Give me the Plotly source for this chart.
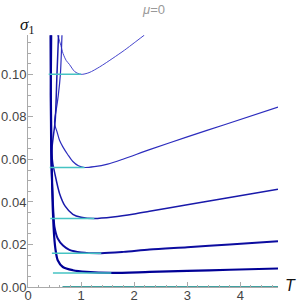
import plotly.graph_objects as go

# ---- data ----
T1 = [0.56, 0.62, 0.66, 0.72, 0.78, 0.88, 1.0, 1.15, 1.35, 1.6, 1.82, 2.0, 2.19]
S1 = [0.1184, 0.1135, 0.1098, 0.1065, 0.1047, 0.1013, 0.1000, 0.1008, 0.1035, 0.1076, 0.1114, 0.1148, 0.1184]

T2 = [0.64, 0.61, 0.57, 0.53, 0.507, 0.50, 0.512, 0.543, 0.594, 0.657, 0.751, 0.845, 0.95,
      1.066, 1.25, 1.5, 1.8, 2.29, 3.0, 3.7, 4.71]
S2 = [0.1184, 0.1000, 0.0900, 0.0830, 0.0797, 0.0775, 0.0755, 0.0733, 0.0690, 0.0659, 0.0622,
      0.0590, 0.0570, 0.0562, 0.0566, 0.0578, 0.0602, 0.0646, 0.0706, 0.0763, 0.0846]

T3 = [0.575, 0.545, 0.513, 0.478, 0.455, 0.452, 0.468, 0.50, 0.594, 0.70, 0.845, 1.0, 1.25,
      1.6, 2.0, 2.29, 3.0, 3.8, 4.71]
S3 = [0.1184, 0.0996, 0.0784, 0.0710, 0.0660, 0.0620, 0.0580, 0.0540, 0.0440, 0.0380, 0.0342,
      0.0328, 0.0322, 0.0329, 0.0343, 0.0356, 0.0387, 0.0421, 0.0460]

T4 = [0.44, 0.43, 0.434, 0.446, 0.46, 0.48, 0.50, 0.56, 0.66, 0.78, 1.0, 1.38, 1.8, 2.29,
      3.0, 3.8, 4.71]
S4 = [0.1184, 0.0900, 0.0640, 0.0530, 0.0455, 0.0347, 0.0282, 0.0228, 0.0195, 0.0175, 0.0163,
      0.0159, 0.0165, 0.0176, 0.0187, 0.0200, 0.0215]

T5 = [0.425, 0.43, 0.443, 0.455, 0.468, 0.494, 0.52, 0.56, 0.657, 0.845, 1.1, 1.57, 2.29,
      3.0, 3.8, 4.71]
S5 = [0.1184, 0.0900, 0.0640, 0.0480, 0.0360, 0.0235, 0.0173, 0.0126, 0.0094, 0.0079, 0.0071,
      0.0066, 0.0071, 0.0076, 0.0081, 0.0087]

min_sigma = [0.100, 0.0562, 0.0322, 0.0159, 0.0066]
min_start = [0.39, 0.41, 0.42, 0.45, 0.47]
min_end = [1.0, 1.066, 1.25, 1.38, 1.57]

base_T = [0.65, 4.71]
base_S = [0.0, 0.0]

x_ticks = [0, 1, 2, 3, 4]
y_ticks = [0.00, 0.02, 0.04, 0.06, 0.08, 0.10]
y_tick_text = ["0.00", "0.02", "0.04", "0.06", "0.08", "0.10"]

# ---- figure ----
W, H = 297, 304
ML, MR, MT, MB = 28, 19, 35, 17
PW, PH = W - ML - MR, H - MT - MB


def px(xp):
    return (xp - ML) / PW


def py(yp):
    return (H - MB - yp) / PH


fig = go.Figure()

curves = [(T1, S1), (T2, S2), (T3, S3), (T4, S4), (T5, S5)]
colors = ["rgb(70,70,205)", "rgb(45,45,190)", "rgb(25,25,170)", "rgb(12,12,160)", "rgb(0,0,150)"]
widths = [1.0, 1.2, 1.5, 1.9, 2.2]

for (tx, sy), c, w in zip(curves, colors, widths):
    fig.add_trace(go.Scatter(x=tx, y=sy, mode="lines",
                             line=dict(color=c, width=w, shape="spline", smoothing=0.8),
                             hoverinfo="skip", showlegend=False, cliponaxis=True))

for s, a, b in zip(min_sigma, min_start, min_end):
    fig.add_trace(go.Scatter(x=[a, b], y=[s, s], mode="lines",
                             line=dict(color="rgb(70,195,195)", width=1.5),
                             hoverinfo="skip", showlegend=False))

fig.add_trace(go.Scatter(x=base_T, y=base_S, mode="lines",
                         line=dict(color="rgb(0,128,128)", width=1.6),
                         hoverinfo="skip", showlegend=False, cliponaxis=False))

axis_common = dict(showgrid=False, zeroline=False, showline=True, linecolor="#aaaaaa",
                   linewidth=1, ticks="inside", ticklen=5, tickcolor="#aaaaaa", tickwidth=1,
                   automargin=False,
                   tickfont=dict(family="Liberation Sans, Arial, sans-serif", size=13, color="#444444"))

fig.update_layout(
    width=W, height=H,
    margin=dict(l=ML, r=MR, t=MT, b=MB, pad=0, autoexpand=False),
    paper_bgcolor="white", plot_bgcolor="white",
    xaxis=dict(range=[0, 4.71], tickvals=x_ticks, ticktext=[str(v) for v in x_ticks],
               minor=dict(dtick=0.2, ticks="inside", ticklen=2.5, tickcolor="#aaaaaa"),
               ticklabelstandoff=-4,
               **axis_common),
    yaxis=dict(range=[0, 0.1185], tickvals=y_ticks, ticktext=y_tick_text,
               minor=dict(dtick=0.005, ticks="inside", ticklen=2.5, tickcolor="#aaaaaa"),
               ticklabelstandoff=-2,
               **axis_common),
    annotations=[
        dict(text="<i>σ</i><sub>1</sub>", x=px(27), y=py(26), xref="paper", yref="paper",
             showarrow=False, xanchor="center", yanchor="middle",
             font=dict(family="Liberation Serif, Times New Roman, serif", size=17, color="#111111")),
        dict(text="<i>T</i>", x=px(290), y=py(285), xref="paper", yref="paper",
             showarrow=False, xanchor="center", yanchor="middle",
             font=dict(family="Liberation Sans, Arial, sans-serif", size=16, color="#111111")),
        dict(text="<i>μ</i>=0", x=px(153), y=py(10), xref="paper", yref="paper",
             showarrow=False, xanchor="center", yanchor="middle",
             font=dict(family="Liberation Sans, Arial, sans-serif", size=13, color="#999999")),
    ],
)

fig.write_html("out.html", config={"displayModeBar": False, "staticPlot": True},
               post_script="document.body.style.margin='0';")
